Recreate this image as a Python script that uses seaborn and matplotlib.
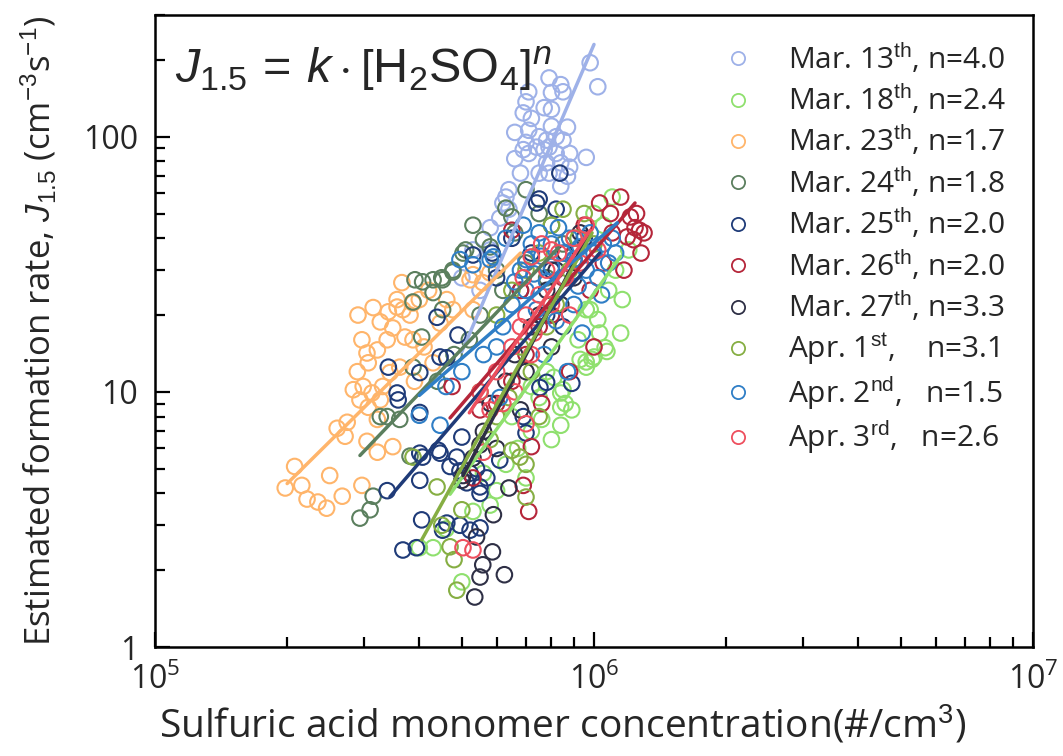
import numpy as np
import pandas as pd
import matplotlib
matplotlib.use("Agg")
import matplotlib.pyplot as plt
from matplotlib.lines import Line2D
from matplotlib.ticker import LogLocator, NullFormatter, LogFormatterSciNotation, FixedLocator, FixedFormatter
import seaborn as sns

# concentrations are given in units of 1e5 #/cm3
X_UNIT = 1e5

dates = ["Mar. 13", "Mar. 18", "Mar. 23", "Mar. 24", "Mar. 25",
         "Mar. 26", "Mar. 27", "Apr. 1", "Apr. 2", "Apr. 3"]
labels = [
    r"Mar. 13$^{\mathrm{th}}$, n=4.0",
    r"Mar. 18$^{\mathrm{th}}$, n=2.4",
    r"Mar. 23$^{\mathrm{th}}$, n=1.7",
    r"Mar. 24$^{\mathrm{th}}$, n=1.8",
    r"Mar. 25$^{\mathrm{th}}$, n=2.0",
    r"Mar. 26$^{\mathrm{th}}$, n=2.0",
    r"Mar. 27$^{\mathrm{th}}$, n=3.3",
    r"Apr. 1$^{\mathrm{st}}$,    n=3.1",
    r"Apr. 2$^{\mathrm{nd}}$,   n=1.5",
    r"Apr. 3$^{\mathrm{rd}}$,   n=2.6",
]
colors = ["#9EB1E8", "#8FE06E", "#FFB56B", "#5B7F5E", "#1F3B78",
          "#B5263A", "#2E2F45", "#86AE43", "#2F7EC6", "#EE4F5E"]
exponents = [4.0, 2.4, 1.7, 1.8, 2.0, 2.0, 3.3, 3.1, 1.5, 2.6]

# fit line extents (x start, x end, J at x end)
line_x0 = [5.0, 4.7, 2.0, 2.93, 3.43, 4.7, 5.03, 4.05, 4.0, 5.2]
line_x1 = [10.0, 11.5, 6.8, 8.3, 10.3, 12.4, 9.7, 9.9, 11.3, 9.8]
line_j1 = [230, 34, 35, 36.7, 35, 55, 41, 42, 46, 43]

mar13_x = [9.8, 10.2, 7.9, 8.4, 8.0, 8.5, 7.7, 8.0, 7.1, 7.0, 6.9, 6.6, 7.1, 7.5, 7.8, 8.2,
           8.5, 8.7, 7.4, 7.7, 7.9, 7.1, 8.2, 8.8, 9.6, 8.8, 8.4, 7.8, 6.9, 6.8, 7.5, 7.9,
           8.7, 6.3, 6.2, 6.4, 6.1, 5.8, 5.3, 5.8, 8.4, 7.2, 6.4, 5.0, 7.0, 8.0, 6.6, 5.5]
mar13_j = [195, 157, 170, 160, 149, 150, 130, 128, 150, 137, 124, 104, 106, 100, 97, 100,
           97, 109, 91, 89, 91, 86, 86, 86, 83, 76, 79, 79, 89, 72, 72, 72,
           70, 58, 55, 52, 48, 44, 36, 36, 64, 118, 62, 28, 95, 110, 82, 25]

mar18_x = [4.0, 4.3, 5.0, 4.6, 5.3, 6.0, 5.6, 6.3, 6.7, 7.0, 7.2, 7.6, 8.0, 8.4, 8.4, 8.5,
           8.6, 8.9, 8.1, 8.4, 9.3, 9.6, 9.6, 9.9, 10.0, 10.7, 10.6, 9.6, 9.8, 10.2, 10.3,
           11.5, 11.6, 11.0, 10.5, 9.0, 7.5, 6.5, 7.8, 11.2, 10.8, 5.8, 7.2, 9.2, 12.0, 10.0]
mar18_j = [2.45, 2.45, 1.8, 2.9, 3.4, 4.1, 4.8, 5.2, 6.0, 4.6, 7.0, 7.8, 6.5, 7.4, 8.7, 10.2,
           9.0, 8.5, 11.4, 9.9, 13.4, 12.5, 13.1, 13.4, 13.7, 14.4, 14.9, 21, 21, 19.2, 17,
           17, 23, 58, 45, 40, 9.5, 8.0, 12, 30, 25, 3.6, 10.5, 16, 36, 50]

mar23_x = [2.90, 3.14, 3.26, 3.40, 3.56, 3.67, 3.81, 3.65, 3.56, 3.87, 2.96, 3.04, 2.89, 3.06,
           3.21, 3.38, 3.48, 3.71, 3.87, 2.83, 2.98, 3.12, 3.26, 3.06, 2.93, 3.30, 3.43, 3.61,
           2.60, 2.74, 2.71, 2.50, 2.08, 1.98, 2.16, 2.22, 2.35, 2.46, 2.67, 2.96, 3.04, 3.21,
           3.48, 3.21, 5.22, 5.58, 5.30, 5.30, 4.62, 4.77, 4.46, 5.79, 4.0, 4.2, 4.1, 4.3, 3.9]
mar23_j = [20.0, 21.4, 18.8, 20.6, 21.5, 21.0, 20.0, 26.8, 23.0, 22.3, 16.0, 14.2, 12.0, 13.0,
           14.6, 16.0, 17.8, 16.4, 16.0, 10.2, 10.5, 9.9, 9.3, 8.7, 9.3, 10.5, 11.9, 12.5,
           7.2, 7.6, 6.7, 4.7, 5.1, 4.2, 4.3, 3.8, 3.7, 3.5, 3.9, 4.3, 6.4, 5.8,
           6.1, 7.8, 27.5, 26.8, 21.0, 28.8, 23.0, 21.0, 18.6, 29.3, 23, 25, 15, 13, 11]

mar24_x = [3.91, 4.07, 4.30, 4.52, 4.77, 5.03, 3.87, 4.05, 4.30, 4.52, 3.26, 3.38, 3.61, 3.87,
           3.81, 3.14, 3.09, 2.93, 5.3, 5.6, 5.8, 5.1, 4.77, 4.5, 6.3, 6.5, 7.0, 7.5, 8.0, 8.5,
           7.0, 6.0, 6.6, 5.5, 4.8, 4.4, 5.2, 6.2, 7.8]
mar24_j = [27.5, 27.0, 27.5, 27.5, 29.5, 35, 22.5, 16.4, 24.5, 21.0, 8.0, 8.0, 7.8, 12.5,
           5.6, 3.9, 3.45, 3.2, 45, 39.5, 37, 36, 30, 28, 52.5, 48.5, 62, 50, 45, 38,
           32, 30, 42, 20, 14, 11, 16, 25, 28]

mar25_x = [3.40, 4.01, 3.56, 3.58, 4.01, 4.39, 4.46, 4.62, 4.90, 3.38, 4.01, 4.46, 4.70, 4.01,
           4.95, 5.22, 5.50, 5.30, 5.86, 4.07, 4.42, 4.87, 5.0, 4.62, 4.05, 3.67, 3.94, 4.52,
           4.95, 5.22, 5.5, 5.13, 5.5, 5.7, 5.4, 6.1, 7.0, 6.9, 7.53, 7.8, 8.9, 8.36, 7.5, 7.4,
           8.2, 6.5, 7.2, 8.0, 9.0, 6.0, 6.8, 7.8, 8.5, 9.5]
mar25_j = [12.5, 11.9, 9.9, 9.3, 8.3, 19.6, 13.7, 13.6, 16.7, 4.1, 5.75, 5.75, 5.1, 4.5,
           4.9, 4.8, 4.0, 34.4, 35, 5.55, 5.9, 5.55, 6.65, 3.06, 3.15, 2.4, 2.45, 2.87,
           3.0, 2.87, 2.93, 4.4, 4.24, 4.6, 5.0, 5.4, 6.9, 8.0, 10.4, 10.9, 10.8, 72, 57, 55,
           52, 40, 35, 30, 33, 28, 25, 20, 18, 40]

mar26_x = [11.5, 10.3, 12.1, 12.4, 12.3, 11.7, 10.9, 10.0, 12.5, 12.7, 11.9, 6.8, 6.5, 4.75,
           7.1, 6.9, 7.2, 5.3, 8.0, 8.5, 9.0, 9.5, 7.5, 7.0, 6.5, 6.0, 5.5, 10.5, 11.0, 9.8,
           8.8, 7.6, 13.0, 12.8]
mar26_j = [58, 55, 48.5, 44, 39.5, 30, 50, 15, 50, 43, 40.5, 25, 43, 10.5,
           3.4, 4.3, 6.1, 4.6, 20, 28, 35, 45, 18, 14, 11, 9, 8.5, 32, 42, 25,
           12, 9, 42, 35]

mar27_x = [5.87, 5.58, 5.5, 6.25, 5.35, 5.03, 5.5, 5.0, 5.3, 5.6, 5.8, 6.0, 6.3, 6.6,
           7.0, 7.2, 7.5, 7.8, 8.2, 8.6, 9.0, 9.3, 8.0, 6.8, 5.9, 6.4, 5.4, 8.4]
mar27_j = [2.36, 2.1, 1.88, 1.92, 1.57, 4.7, 6.2, 4.5, 5.5, 7, 9, 6, 11, 14,
           12, 18, 20, 25, 30, 35, 28, 42, 15, 8.5, 3.3, 4.2, 2.7, 22]

apr1_x = [3.87, 4.39, 4.87, 4.7, 4.8, 5.0, 6.78, 7.0, 7.0, 6.5, 6.0, 6.5, 7.0, 7.5, 8.0,
          8.5, 6.8, 7.2, 7.8, 8.2, 8.8, 9.2, 5.5, 6.0, 6.4, 7.5, 5.8, 9.5, 10.0, 4.5]
apr1_j = [5.55, 4.24, 1.67, 2.47, 2.2, 3.45, 5.55, 5.2, 3.87, 5.9, 20, 25, 30, 35, 45,
          52, 15, 12, 18, 22, 30, 40, 10, 8, 9.5, 8, 6.5, 50, 38, 3.0]

apr2_x = [4.0, 4.46, 4.6, 5.0, 5.3, 5.9, 4.95, 5.8, 6.0, 6.2, 6.5, 6.6, 6.8, 7.0, 7.0, 7.2,
          7.3, 7.5, 7.6, 7.8, 8.0, 8.0, 8.3, 8.5, 8.6, 8.8, 9.0, 9.2, 9.3, 9.6, 9.8, 10.0,
          10.2, 10.5, 10.8, 11.0, 11.2, 7.4, 8.2, 9.0, 6.3, 6.9, 5.6, 9.4, 10.4, 7.7, 8.7, 6.1]
apr2_j = [8.1, 7.4, 10.5, 12, 31.5, 33.8, 33, 33, 15, 18, 22, 27, 30, 33, 25, 38,
          29, 42, 34, 27, 38, 31, 44, 35, 28, 40, 33, 26, 37, 30, 42, 35,
          28, 38, 32, 40, 35, 21, 19, 22, 40, 45, 14, 17, 24, 14, 12, 9.5]

apr3_x = [6.0, 6.5, 6.8, 7.0, 7.2, 7.5, 7.8, 8.0, 8.3, 8.6, 9.0, 9.3, 9.6, 6.2, 5.8, 5.5,
          5.3, 6.6, 7.3, 8.8, 6.9, 7.6, 10.2, 7.0, 5.6, 5.03, 8.0, 7.2]
apr3_j = [12, 15, 18, 20, 14, 24, 30, 22, 35, 28, 40, 32, 45, 9, 8.5, 10,
          2.4, 10, 17, 20, 28, 38, 36, 7.5, 5.8, 2.45, 36, 33.8]

series_x = [mar13_x, mar18_x, mar23_x, mar24_x, mar25_x, mar26_x, mar27_x, apr1_x, apr2_x, apr3_x]
series_j = [mar13_j, mar18_j, mar23_j, mar24_j, mar25_j, mar26_j, mar27_j, apr1_j, apr2_j, apr3_j]

frames = []
for d, xs, js in zip(dates, series_x, series_j):
    frames.append(pd.DataFrame({"conc": np.array(xs) * X_UNIT, "J": js, "date": d}))
df = pd.concat(frames, ignore_index=True)

sns.set_theme(style="white")
plt.rcParams["font.family"] = ["Open Sans", "DejaVu Sans"]
plt.rcParams["mathtext.fontset"] = "custom"
plt.rcParams["mathtext.rm"] = "Liberation Sans"
plt.rcParams["mathtext.it"] = "Liberation Sans:italic"
plt.rcParams["mathtext.bf"] = "Liberation Sans:bold"

fig = plt.figure(figsize=(10.63, 7.56), dpi=100)
ax = fig.add_axes([155 / 1063, 1 - 647 / 756, 878 / 1063, 632 / 756])

palette = dict(zip(dates, colors))
sns.scatterplot(data=df, x="conc", y="J", hue="date", palette=palette,
                s=125, linewidth=1.5, legend=False, ax=ax, zorder=2)
pts = ax.collections[0]
pts.set_edgecolors(pts.get_facecolors())
pts.set_facecolors("none")

# power-law fit lines J = k [H2SO4]^n
for d, c, n, x0, x1, j1 in zip(dates, colors, exponents, line_x0, line_x1, line_j1):
    xl = np.array([x0, x1]) * X_UNIT
    jl = j1 * (xl / (x1 * X_UNIT)) ** n
    sns.lineplot(x=xl, y=jl, color=c, linewidth=2.5, ax=ax, zorder=3)

ax.set_xscale("log")
ax.set_yscale("log")
ax.set_xlim(1e5, 1e7)
ax.set_ylim(1, 300)

ax.xaxis.set_major_locator(FixedLocator([1e5, 1e6, 1e7]))
ax.xaxis.set_major_formatter(LogFormatterSciNotation())
ax.xaxis.set_minor_locator(LogLocator(base=10, subs=np.arange(2, 10)))
ax.xaxis.set_minor_formatter(NullFormatter())
ax.yaxis.set_major_locator(FixedLocator([1, 10, 100]))
ax.yaxis.set_major_formatter(FixedFormatter(["1", "10", "100"]))
ax.yaxis.set_minor_locator(LogLocator(base=10, subs=np.arange(2, 10)))
ax.yaxis.set_minor_formatter(NullFormatter())

ax.tick_params(which="both", direction="in", top=False, right=False,
               bottom=True, left=True, color="black", width=1.6)
ax.tick_params(which="major", length=11, labelsize=23, pad=12)
ax.tick_params(which="minor", length=7)
ax.tick_params(axis="y", which="major", pad=12)
for sp in ax.spines.values():
    sp.set_visible(True)
    sp.set_color("black")
    sp.set_linewidth(1.8)

ax.set_xlabel(r"Sulfuric acid monomer concentration(#/cm$^{3}$)", fontsize=28, labelpad=5)
ax.xaxis.label.set_x(0.464)
ax.set_ylabel(r"Estimated formation rate, $J_{1.5}$ (cm$^{-3}$s$^{-1}$)", fontsize=25, labelpad=18)

ax.text(0.023, 0.912, r"$J_{1.5}\, =\, k\cdot\left[\mathrm{H_2SO_4}\right]^n$",
        transform=ax.transAxes, fontsize=35, ha="left", va="center")

handles = [Line2D([], [], marker="o", ls="none", mfc="none", mec=c, ms=9.5, mew=1.3)
           for c in colors]
ax.legend(handles, labels, loc="upper left", bbox_to_anchor=(0.647, 0.959),
          frameon=False, fontsize=21.5, handlelength=1.0, handletextpad=1.17,
          labelspacing=0.23, borderpad=0, borderaxespad=0)

fig.savefig("out.png", dpi=100)
